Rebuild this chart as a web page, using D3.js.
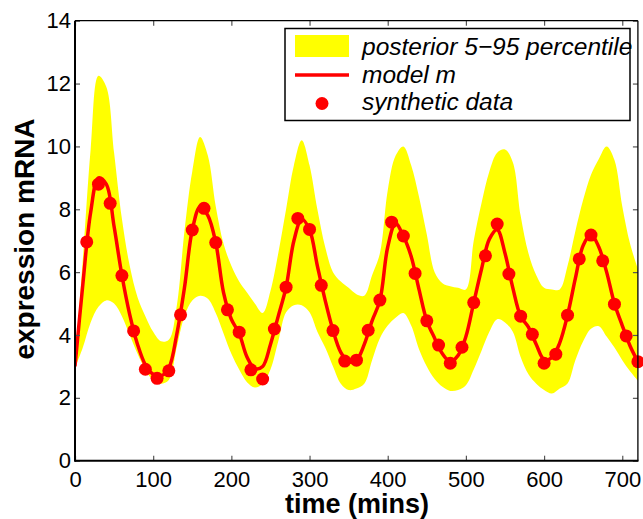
<!DOCTYPE html>
<html>
<head>
<meta charset="utf-8">
<script src="https://cdn.jsdelivr.net/npm/d3@7/dist/d3.min.js"></script>
<style>
  html, body { margin: 0; padding: 0; background: #fff; }
  svg { display: block; font-family: "Liberation Sans", Arial, Helvetica, sans-serif; }
</style>
</head>
<body>
<svg id="chart" width="643" height="519"></svg>
<script>
// ---- data ----
// model curve & posterior band on a 10-minute grid (0..720)
const gridTime = d3.range(0, 721, 10);
const modelM = [
  3.0, 5.6, 7.9, 9.0, 8.8, 7.45, 5.9, 4.65, 3.7, 3.05,
  2.75, 2.7, 2.95, 4.0, 5.5, 7.34, 8.08, 7.8, 6.94, 5.35,
  4.5, 4.05, 3.3, 2.93, 3.0, 3.7, 4.6, 5.52, 7.0, 7.68,
  7.35, 6.2, 5.1, 4.15, 3.45, 3.15, 3.2, 3.7, 4.45, 5.1,
  6.8, 7.55, 7.15, 6.5, 5.45, 4.45, 3.9, 3.4, 3.15, 3.35,
  3.95, 5.03, 6.1, 7.05, 7.35, 6.6, 5.5, 4.6, 4.25, 3.7,
  3.22, 3.28, 3.75, 4.63, 5.8, 6.85, 7.2, 6.8, 6.0, 5.0,
  4.3, 3.65, 3.15
];
const bandUpper = [
  3.1, 6.4, 9.9, 12.25, 11.9, 9.8, 7.7, 6.2, 5.2, 4.6,
  4.1, 3.8, 3.85, 4.9, 7.3, 9.2, 10.3, 9.7, 8.1, 6.9,
  6.2, 5.7, 5.35, 5.0, 4.7, 5.4, 6.6, 8.0, 9.4, 10.2,
  9.4, 8.0, 6.8, 6.0, 5.7, 5.5, 5.3, 5.25, 5.9, 6.6,
  8.6, 9.7, 10.0, 9.4, 8.4, 7.2, 6.0, 5.65, 5.55, 5.5,
  5.45, 7.0, 8.2, 9.2, 9.8, 9.9, 9.5, 7.8, 6.6, 5.9,
  5.5, 5.45, 5.45, 6.2, 7.3, 8.3, 9.1, 9.6, 10.0, 9.57,
  8.1, 6.9, 6.1
];
const bandLower = [
  2.95, 3.6, 4.4, 4.9, 5.1, 5.0, 4.6, 4.0, 3.4, 2.9,
  2.55, 2.45, 2.57, 3.6, 4.6, 5.1, 5.25, 5.15, 4.7, 4.05,
  3.4, 2.9, 2.5, 2.33, 2.45, 2.9, 3.8, 4.72, 4.95, 4.95,
  4.72, 4.1, 3.6, 3.0, 2.45, 2.25, 2.3, 2.45, 3.2, 3.9,
  4.3, 4.55, 4.7, 4.3, 3.55, 3.0, 2.6, 2.35, 2.22, 2.25,
  2.4, 2.9, 3.5, 4.1, 4.5, 4.4, 4.1, 3.3, 2.75, 2.45,
  2.25, 2.14, 2.3, 2.46, 3.2, 3.8, 4.2, 4.28, 3.95, 3.6,
  3.2, 2.85, 2.55
];
// synthetic data every 15 minutes (15..720)
const dataTime = d3.range(15, 721, 15);
const dataValue = [
  6.96, 8.80, 8.19, 5.89, 4.13, 2.91, 2.62, 2.86, 4.64, 7.34,
  8.03, 6.94, 4.80, 4.09, 2.89, 2.60, 4.19, 5.52, 7.71, 7.36,
  5.58, 4.14, 3.17, 3.20, 4.15, 5.11, 7.59, 7.15, 5.96, 4.45,
  3.68, 3.10, 3.61, 5.03, 6.52, 7.53, 5.94, 4.60, 4.02, 3.10,
  3.39, 4.63, 6.42, 7.18, 6.36, 4.98, 3.97, 3.15
];
const xTicks = [0, 100, 200, 300, 400, 500, 600, 700];
const yTicks = [0, 2, 4, 6, 8, 10, 12, 14];
const legendLabels = ["posterior 5\u221295 percentile", "model m", "synthetic data"];
const xTitle = "time (mins)";
const yTitle = "expression mRNA";

// ---- layout ----
const svg = d3.select("#chart");
const pL = 75, pR = 637.9, pT = 20.7, pB = 460.7;
const x = d3.scaleLinear().domain([0, 720]).range([pL, pR]);
const y = d3.scaleLinear().domain([0, 14]).range([pB, pT]);

const band = gridTime.map((t, i) => ({ t, lo: bandLower[i], hi: bandUpper[i] }));
const model = gridTime.map((t, i) => ({ t, v: modelM[i] }));
const pts = dataTime.map((t, i) => ({ t, v: dataValue[i] }));

svg.append("defs").append("clipPath").attr("id", "clip")
  .append("rect").attr("x", pL).attr("y", pT).attr("width", pR - pL).attr("height", pB - pT);

const plot = svg.append("g").attr("clip-path", "url(#clip)");

plot.append("path").datum(band)
  .attr("fill", "#ffff00")
  .attr("d", d3.area().x(d => x(d.t)).y0(d => y(d.lo)).y1(d => y(d.hi)).curve(d3.curveCatmullRom));

plot.append("path").datum(model)
  .attr("fill", "none").attr("stroke", "#ff0000").attr("stroke-width", 3.5)
  .attr("stroke-linejoin", "round")
  .attr("d", d3.line().x(d => x(d.t)).y(d => y(d.v)).curve(d3.curveCatmullRom));

svg.append("g").selectAll("circle").data(pts).join("circle")
  .attr("cx", d => x(d.t)).attr("cy", d => y(d.v)).attr("r", 6.5)
  .attr("fill", "#ff0000");

// ---- axes ----
const tickColor = "#555";
const fontSize = 22;
const gx = svg.append("g").attr("transform", `translate(0,${pB})`)
  .call(d3.axisBottom(x).tickValues(xTicks).tickSizeInner(-5).tickSizeOuter(0).tickPadding(10.5));
const gy = svg.append("g").attr("transform", `translate(${pL},0)`)
  .call(d3.axisLeft(y).tickValues(yTicks).tickSizeInner(-5).tickSizeOuter(0).tickPadding(4));
const gxt = svg.append("g").attr("transform", `translate(0,${pT})`)
  .call(d3.axisTop(x).tickValues(xTicks).tickSizeInner(-5).tickSizeOuter(0).tickFormat(""));
const gyr = svg.append("g").attr("transform", `translate(${pR},0)`)
  .call(d3.axisRight(y).tickValues(yTicks).tickSizeInner(-5).tickSizeOuter(0).tickFormat(""));
[gx, gy, gxt, gyr].forEach(g => {
  g.select(".domain").remove();
  g.selectAll(".tick line").attr("stroke", tickColor).attr("stroke-width", 1.2);
  g.selectAll(".tick text").attr("fill", "#000").style("font-size", fontSize + "px")
    .style("font-family", "'Liberation Sans', Arial, sans-serif");
});

// box
svg.append("line").attr("x1", pL).attr("x2", pR).attr("y1", pT).attr("y2", pT)
  .attr("stroke", "#000").attr("stroke-width", 1.3);
svg.append("line").attr("x1", pR).attr("x2", pR).attr("y1", pT).attr("y2", pB)
  .attr("stroke", "#000").attr("stroke-width", 1.3);
svg.append("line").attr("x1", pL).attr("x2", pR + 0.6).attr("y1", pB).attr("y2", pB)
  .attr("stroke", "#000").attr("stroke-width", 2);
svg.append("line").attr("x1", pL).attr("x2", pL).attr("y1", pT).attr("y2", pB + 1)
  .attr("stroke", "#000").attr("stroke-width", 2);

// titles
svg.append("text").attr("x", 357).attr("y", 513).attr("text-anchor", "middle")
  .style("font-size", "27px").style("font-weight", "bold").text(xTitle);
svg.append("text").attr("transform", "translate(34,239) rotate(-90)").attr("text-anchor", "middle")
  .style("font-size", "28px").style("font-weight", "bold").text(yTitle);

// ---- legend ----
const lg = svg.append("g");
lg.append("rect").attr("x", 285).attr("y", 28.5).attr("width", 345).attr("height", 92)
  .attr("fill", "#fff").attr("stroke", "#000").attr("stroke-width", 1.5);
lg.append("rect").attr("x", 295).attr("y", 35).attr("width", 54).attr("height", 22).attr("fill", "#ffff00");
lg.append("line").attr("x1", 295).attr("x2", 349).attr("y1", 75).attr("y2", 75)
  .attr("stroke", "#ff0000").attr("stroke-width", 3.5);
lg.append("circle").attr("cx", 322).attr("cy", 103.5).attr("r", 6.5).attr("fill", "#ff0000");
const ly = [55, 82.5, 110];
legendLabels.forEach((s, i) => {
  lg.append("text").attr("x", 362).attr("y", ly[i])
    .style("font-size", "24.5px").style("font-style", "italic").text(s);
});
</script>
</body>
</html>
